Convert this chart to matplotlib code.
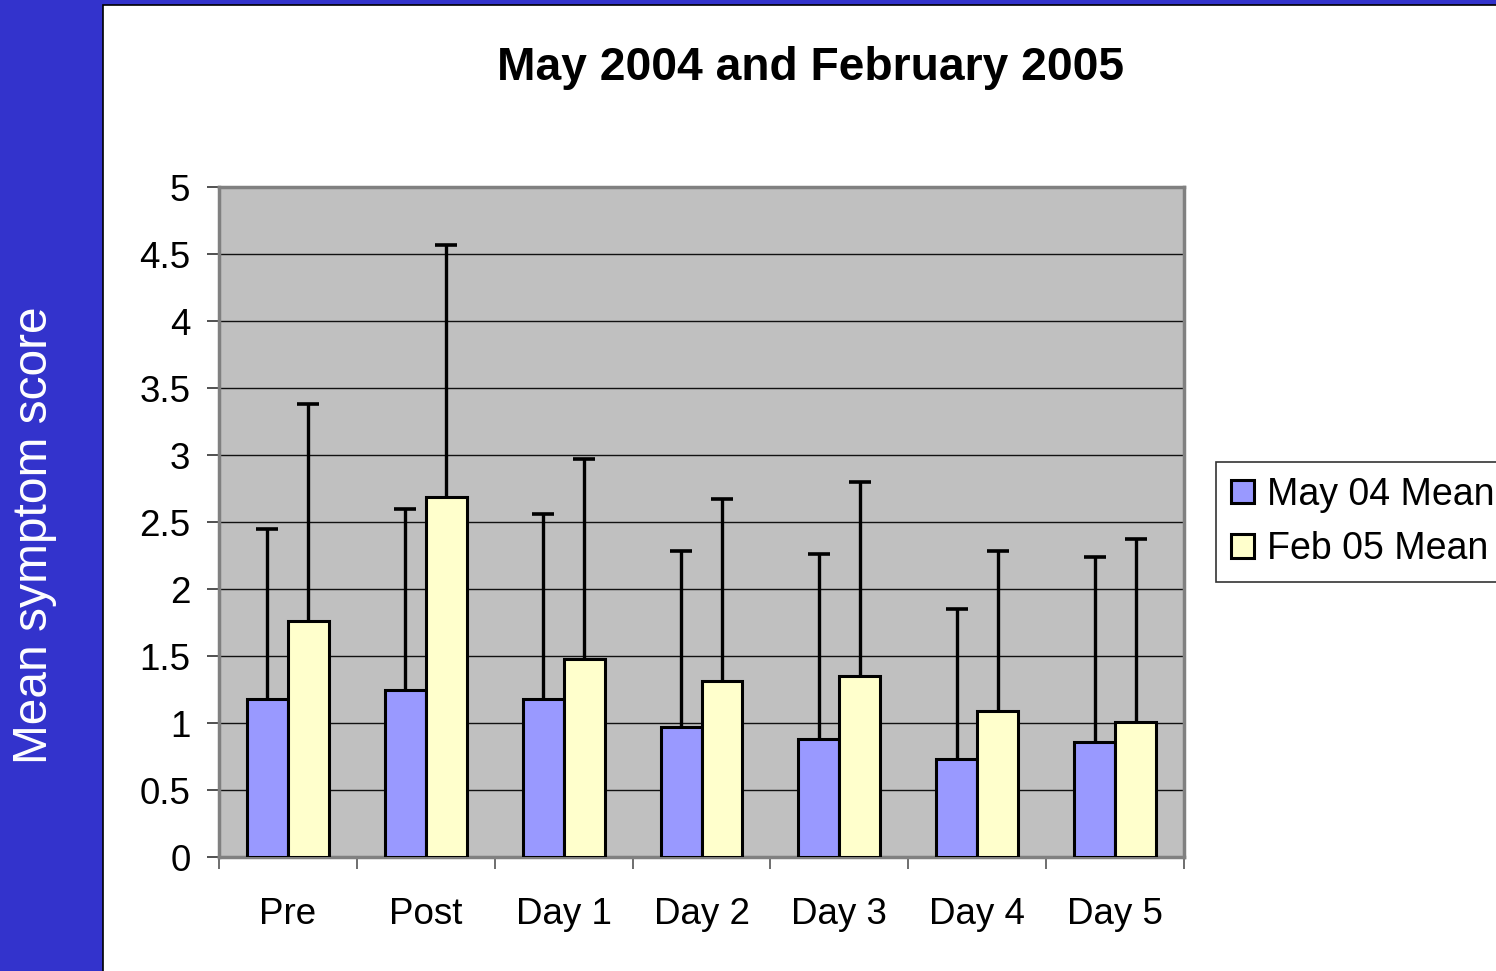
import matplotlib
matplotlib.use("Agg")
import matplotlib.pyplot as plt
import numpy as np
from matplotlib.patches import Rectangle

plt.rcParams['font.family'] = ['Liberation Sans', 'DejaVu Sans']

categories = ["Pre", "Post", "Day 1", "Day 2", "Day 3", "Day 4", "Day 5"]
may04_mean = [1.18, 1.25, 1.18, 0.97, 0.88, 0.73, 0.86]
feb05_mean = [1.76, 2.69, 1.48, 1.31, 1.35, 1.09, 1.01]
may04_err_top = [2.45, 2.60, 2.56, 2.28, 2.26, 1.85, 2.24]
feb05_err_top = [3.38, 4.57, 2.97, 2.67, 2.80, 2.28, 2.37]
series_names = ["May 04 Mean", "Feb 05 Mean"]
yticks = [0, 0.5, 1, 1.5, 2, 2.5, 3, 3.5, 4, 4.5, 5]

W, H = 1496, 971
fig = plt.figure(figsize=(W/100, H/100), dpi=100)
fig.patch.set_facecolor("#3333CC")
bg = Rectangle((103/W, -0.05), 1.0, 1.05 - 5/H, transform=fig.transFigure,
               facecolor="white", edgecolor="black", linewidth=1.2, zorder=-10)
fig.patches.append(bg)

ax = fig.add_axes([219/W, 1-857/H, (1184-219)/W, (857-187)/H])
ax.set_zorder(5)
ax.set_facecolor("#C0C0C0")

x = np.arange(len(categories))
bw = 0.297
series = [
    (x - bw/2, may04_mean, may04_err_top, "#9999FF", series_names[0]),
    (x + bw/2, feb05_mean, feb05_err_top, "#FFFFCC", series_names[1]),
]
for xs, means, tops, col, name in series:
    means = np.array(means)
    up = np.array(tops) - means
    eb = ax.errorbar(xs, means, yerr=[np.zeros(len(xs)), up], fmt="none", ecolor="black",
                     elinewidth=2.4, capthick=2.6, capsize=8, zorder=2)
    caplines = eb.lines[1]
    caplines[0].set_visible(False)  # hide lower caps (zero-length lower errors)
    ax.bar(xs, means, bw, color=col, edgecolor="black", linewidth=2.2, label=name, zorder=3)

ax.set_xlim(-0.5, len(categories) - 0.5)
ax.set_ylim(0, 5)
ax.set_yticks(yticks)
ax.set_yticklabels([f"{v:g}" for v in yticks])
ax.yaxis.grid(True, color="#111111", linewidth=1.0, zorder=1)
ax.set_axisbelow(True)

ax.set_xticks(x)
ax.set_xticklabels(categories)
ax.set_xticks(np.arange(-0.5, len(categories)), minor=True)
ax.tick_params(axis="x", which="major", length=0, pad=29, labelsize=26.5)
ax.tick_params(axis="x", which="minor", length=8.6, width=1.2, color="#555555", direction="out")
ax.tick_params(axis="y", length=8.6, width=1.2, color="#333333", pad=12, labelsize=26.5)

for s in ax.spines.values():
    s.set_color("#808080")
    s.set_linewidth(2.5)

fig.text(810/W, 1-68/H, "May 2004 and February 2005", ha="center", va="center",
         fontsize=33.2, fontweight="bold")
fig.text(35/W, 1-535/H, "Mean symptom score", ha="center", va="center", rotation=90,
         color="white", fontsize=34.5)

handles, labels = ax.get_legend_handles_labels()
leg = ax.legend(handles, labels, loc="center left", bbox_to_anchor=(1216/W, 1-522/H),
                bbox_transform=fig.transFigure,
                fontsize=27, frameon=True, fancybox=False, edgecolor="black",
                handlelength=0.6, handleheight=0.6, handletextpad=0.35, borderpad=0.4,
                labelspacing=0.5, borderaxespad=0)
leg.get_frame().set_linewidth(1.2)

fig.savefig("out.png", dpi=100, facecolor=fig.get_facecolor())
